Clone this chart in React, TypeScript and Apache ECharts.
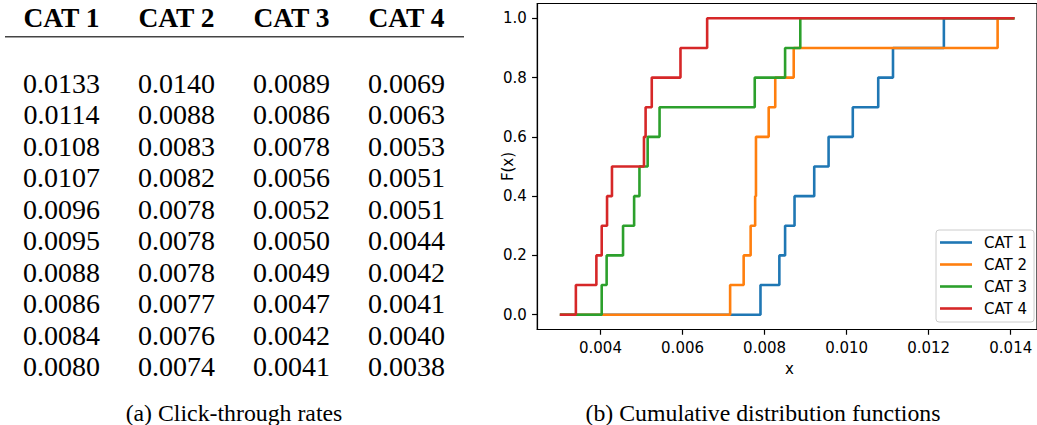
import React, { useEffect, useRef } from "react";
import * as echarts from "echarts";

// ---- Data ----
const categories = ["CAT 1", "CAT 2", "CAT 3", "CAT 4"];

// (a) Click-through rates table (one column per category)
const ctrCat1 = ["0.0133", "0.0114", "0.0108", "0.0107", "0.0096", "0.0095", "0.0088", "0.0086", "0.0084", "0.0080"];
const ctrCat2 = ["0.0140", "0.0088", "0.0083", "0.0082", "0.0078", "0.0078", "0.0078", "0.0077", "0.0076", "0.0074"];
const ctrCat3 = ["0.0089", "0.0086", "0.0078", "0.0056", "0.0052", "0.0050", "0.0049", "0.0047", "0.0042", "0.0041"];
const ctrCat4 = ["0.0069", "0.0063", "0.0053", "0.0051", "0.0051", "0.0044", "0.0042", "0.0041", "0.0040", "0.0038"];

// (b) CDF step positions
const cdfCat1 = [0.0079, 0.00836, 0.0085, 0.00873, 0.00921, 0.00956, 0.01015, 0.01077, 0.01113, 0.01237];
const cdfCat2 = [0.00716, 0.00749, 0.00766, 0.00777, 0.00779, 0.00779, 0.0081, 0.00826, 0.00871, 0.01368];
const cdfCat3 = [0.00403, 0.00415, 0.00455, 0.00482, 0.00495, 0.00515, 0.00544, 0.00776, 0.0085, 0.00887];
const cdfCat4 = [0.0034, 0.0039, 0.00403, 0.00416, 0.00428, 0.00506, 0.0051, 0.00525, 0.00595, 0.0066];
const cdfLevels = [0.1, 0.2, 0.3, 0.4, 0.5, 0.6, 0.7, 0.8, 0.9, 1.0];
const cdfStart = 0.00301;
const cdfEnd = 0.01409;

const xTicks = [0.004, 0.006, 0.008, 0.01, 0.012, 0.014];
const yTicks = [0, 0.2, 0.4, 0.6, 0.8, 1.0];

const colors = ["#1f77b4", "#ff7f0e", "#2ca02c", "#d62728"];
const captionA = "(a) Click-through rates";
const captionB = "(b) Cumulative distribution functions";

export default function App() {
  const ref = useRef<HTMLDivElement>(null);

  useEffect(() => {
    document.body.style.margin = "0";
    const chart = echarts.init(ref.current!, null, { renderer: "svg" });

    const table = [ctrCat1, ctrCat2, ctrCat3, ctrCat4];
    const cdfs = [cdfCat1, cdfCat2, cdfCat3, cdfCat4];
    const colX = [61.5, 176.5, 291.5, 406.5];
    const serif = "Liberation Serif, Times New Roman, serif";
    const sans = "DejaVu Sans, sans-serif";

    const graphics: any[] = [];
    categories.forEach((c, i) => {
      graphics.push({
        type: "text",
        x: colX[i],
        y: 17,
        style: {
          text: c,
          fontFamily: serif,
          fontSize: 27.5,
          fontWeight: "bold",
          fill: "#000",
          align: "center",
          verticalAlign: "middle",
        },
      });
      table[i].forEach((v, r) => {
        graphics.push({
          type: "text",
          x: colX[i],
          y: 83.3 + r * 31.5,
          style: {
            text: v,
            fontFamily: serif,
            fontSize: 28,
            fill: "#000",
            align: "center",
            verticalAlign: "middle",
          },
        });
      });
    });
    graphics.push({
      type: "line",
      shape: { x1: 5, y1: 36.7, x2: 464, y2: 36.7 },
      style: { stroke: "#444", lineWidth: 1.5 },
    });
    graphics.push({
      type: "text",
      x: 234,
      y: 412.5,
      style: { text: captionA, fontFamily: serif, fontSize: 23.8, fill: "#000", align: "center", verticalAlign: "middle" },
    });
    graphics.push({
      type: "text",
      x: 763,
      y: 412.5,
      style: { text: captionB, fontFamily: serif, fontSize: 23.8, fill: "#000", align: "center", verticalAlign: "middle" },
    });
    graphics.push({
      type: "text",
      x: 507.5,
      y: 166.5,
      rotation: Math.PI / 2,
      style: { text: "F(x)", fontFamily: sans, fontSize: 15, fill: "#000", align: "center", verticalAlign: "middle" },
    });
    graphics.push({
      type: "text",
      x: 789.5,
      y: 369,
      style: { text: "x", fontFamily: sans, fontSize: 15, fill: "#000", align: "center", verticalAlign: "middle" },
    });

    const axisLabelStyle = { fontFamily: sans, fontSize: 15, color: "#000" };

    const option: any = {
      animation: false,
      grid: {
        left: 537.3,
        top: 3.5,
        width: 504.2,
        height: 326,
        show: true,
        borderColor: "#000",
        borderWidth: 1.2,
        backgroundColor: "transparent",
      },
      xAxis: {
        type: "value",
        min: 0.00246,
        max: 0.01464,
        axisLine: { show: true, onZero: false, lineStyle: { color: "#000", width: 1.2 } },
        axisTick: { show: true, length: 5.25, lineStyle: { color: "#000", width: 1.2 }, customValues: xTicks },
        axisLabel: {
          ...axisLabelStyle,
          margin: 10.5,
          customValues: xTicks,
          formatter: (v: number) => v.toFixed(3),
        },
        splitLine: { show: false },
      },
      yAxis: {
        type: "value",
        min: -0.05,
        max: 1.05,
        axisLine: { show: true, onZero: false, lineStyle: { color: "#000", width: 1.2 } },
        axisTick: { show: true, length: 5.25, lineStyle: { color: "#000", width: 1.2 }, customValues: yTicks },
        axisLabel: {
          ...axisLabelStyle,
          margin: 10.5,
          customValues: yTicks,
          formatter: (v: number) => v.toFixed(1),
        },
        splitLine: { show: false },
      },
      legend: {
        orient: "vertical",
        left: 936,
        top: 230,
        padding: [5, 7, 6, 4],
        itemWidth: 32,
        itemHeight: 2.6,
        itemGap: 7,
        icon: "rect",
        backgroundColor: "rgba(255,255,255,0.8)",
        borderColor: "#cccccc",
        borderWidth: 1,
        borderRadius: 3,
        textStyle: { fontFamily: sans, fontSize: 15, color: "#000", padding: [0, 0, 0, 7] },
        data: categories,
      },
      series: categories.map((c, i) => ({
        name: c,
        type: "line",
        step: "end",
        showSymbol: false,
        symbol: "none",
        color: colors[i],
        lineStyle: { width: 2.6, color: colors[i] },
        data: [[cdfStart, 0], ...cdfs[i].map((v, k) => [v, cdfLevels[k]]), [cdfEnd, 1]],
      })),
      graphic: graphics,
    };

    chart.setOption(option);
    return () => chart.dispose();
  }, []);

  return <div ref={ref} style={{ width: 1037, height: 425 }} />;
}
